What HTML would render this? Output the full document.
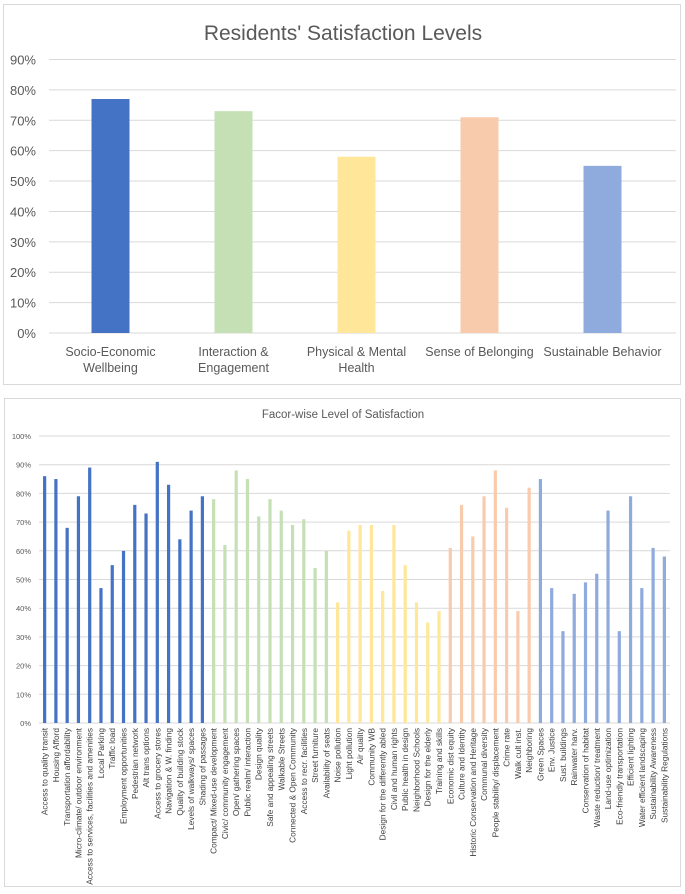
<!DOCTYPE html>
<html><head><meta charset="utf-8"><style>
body{margin:0;background:#fff;font-family:"Liberation Sans",sans-serif;}
svg{display:block}
</style></head><body>
<svg width="685" height="894" xmlns="http://www.w3.org/2000/svg" id="root">
<rect x="3.5" y="4.5" width="677" height="380" fill="#fff" stroke="#d9d9d9"/>
<rect x="4.5" y="398.5" width="676" height="488" fill="#fff" stroke="#d9d9d9"/>
<text x="343" y="40" text-anchor="middle" font-size="21" fill="#595959">Residents' Satisfaction Levels</text>
<text x="343" y="418" text-anchor="middle" font-size="11.5" fill="#595959">Facor-wise Level of Satisfaction</text>
<g id="top"></g>
<g id="bottom"></g>
</svg>
<script>
const topCats=[["Socio-Economic","Wellbeing"],["Interaction &","Engagement"],["Physical & Mental","Health"],["Sense of Belonging"],["Sustainable Behavior"]];
const topVals=[77,73,58,71,55];
const topTicks=[0,10,20,30,40,50,60,70,80,90];
const palette=["#4472c4","#c5e0b4","#ffe699","#f8cbad","#8faadc"];

const botCats=["Access to quality transit","Housing Afford","Transportation affordability","Micro-climate/ outdoor environment","Access to services, facilities and amenities","Local Parking","Traffic load","Employment opportunities","Pedestrian network","Alt trans options","Access to grocery stores","Navigation & W. finding","Quality of building stock","Levels of walkways/ spaces","Shading of passages",
"Compact/ Mixed-use development","Civic/ community engagement","Open/ gathering spaces","Public realm/ interaction","Design quality","Safe and appealing streets","Walkable Streets","Connected & Open Community","Access to recr. facilities","Street furniture","Availability of seats",
"Noise pollution","Light pollution","Air quality","Community WB","Design for the differently abled","Civil and human rights","Public health in design","Neighborhood Schools","Design for the elderly","Training and skills",
"Economic dist equity","Culture and Identity","Historic Conservation and Heritage","Communal diversity","People stability/ displacement","Crime rate","Walk cult inst.","Neighboring",
"Green Spaces","Env. Justice","Sust. buildings","Rainwater harv.","Conservation of habitat","Waste reduction/ treatment","Land-use optimization","Eco-friendly transportation","Efficient lighting","Water efficient landscaping","Sustainability Awareness","Sustainability Regulations"];
const botVals=[86,85,68,79,89,47,55,60,76,73,91,83,64,74,79,
78,62,88,85,72,78,74,69,71,54,60,
42,67,69,69,46,69,55,42,35,39,
61,76,65,79,88,75,39,82,
85,47,32,45,49,52,74,32,79,47,61,58];
const botGroups=[15,11,10,8,12];
const botTicks=[0,10,20,30,40,50,60,70,80,90,100];

const NS="http://www.w3.org/2000/svg";
function mk(parent,tag,attrs,text){const e=document.createElementNS(NS,tag);for(const k in attrs)e.setAttribute(k,attrs[k]);if(text!==undefined)e.textContent=text;parent.appendChild(e);return e;}

// top chart
const tg=document.getElementById('top');
const tx0=49,tx1=664,ty0=333,ty90=59.5;
const tyS=v=>ty0-(v/90)*(ty0-ty90);
const band=(tx1-tx0)/topCats.length;
topTicks.forEach(t=>{
 const l=mk(tg,'line',{x1:tx0,x2:tx1+12,y1:tyS(t),y2:tyS(t),stroke:'#d9d9d9','stroke-width':1});
 
 
 const tt=mk(tg,'text',{x:36,y:tyS(t)+5,'text-anchor':'end','font-size':13,fill:'#595959'},t+'%');
 
 
});
topVals.forEach((v,i)=>{
 const cx=tx0+band*(i+0.5);
 const r=mk(tg,'rect',{x:cx-19,y:tyS(v),width:38,height:ty0-tyS(v),fill:palette[i]});
 
 
 topCats[i].forEach((ln,j)=>{
  const t=mk(tg,'text',{x:cx,y:356+j*16,'text-anchor':'middle','font-size':12.5,fill:'#595959'},ln);
  
  
 });
});

// bottom chart
const bg=document.getElementById('bottom');
const bx0=39,bx1=670,by0=723,by100=436;
const byS=v=>by0-(v/100)*(by0-by100);
const bw=(bx1-bx0)/botCats.length;
botTicks.forEach(t=>{
 const l=mk(bg,'line',{x1:bx0,x2:bx1,y1:byS(t),y2:byS(t),stroke:'#d9d9d9','stroke-width':1});
 
 
 const tt=mk(bg,'text',{x:31,y:byS(t)+3,'text-anchor':'end','font-size':7.5,fill:'#595959'},t+'%');
 
 
});
const colorIdx=[];botGroups.forEach((n,g)=>{for(let k=0;k<n;k++)colorIdx.push(g);});
botVals.forEach((v,i)=>{
 const cx=bx0+bw*(i+0.5);
 const r=mk(bg,'rect',{x:cx-1.6,y:byS(v),width:3.2,height:by0-byS(v),fill:palette[colorIdx[i]]});
 
 
 const t=mk(bg,'text',{x:0,y:0,'text-anchor':'end','font-size':8.3,fill:'#404040',transform:`translate(${cx+3},728) rotate(-90)`},botCats[i]);
 
 
});
</script>
</body></html>
